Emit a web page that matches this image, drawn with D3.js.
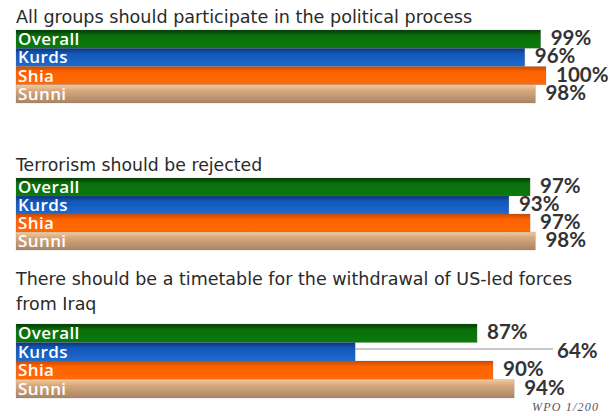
<!DOCTYPE html>
<html><head><meta charset="utf-8">
<script src="https://cdn.jsdelivr.net/npm/d3@7"></script>
<style>
html,body{margin:0;padding:0;background:#fff;}
svg{display:block;}
</style></head>
<body>
<svg id="c" width="610" height="416"></svg>
<script>
const groups = ["Overall", "Kurds", "Shia", "Sunni"];
const titles = [
  ["All groups should participate in the political process"],
  ["Terrorism should be rejected"],
  ["There should be a timetable for the withdrawal of US-led forces", "from Iraq"]
];
const participate = [99, 96, 100, 98];
const rejectTerror = [97, 93, 97, 98];
const timetable = [87, 64, 90, 94];
const source = "WPO 1/200";

const panelsData = [participate, rejectTerror, timetable];

const svg = d3.select("#c");

const colors = {
  Overall: ["#003a00", "#0b6f0b", "#0a7a0a"],
  Kurds:   ["#0a3577", "#1457b8", "#1d6ad0"],
  Shia:    ["#c84a00", "#ff6200", "#ff6a08"],
  Sunni:   ["#f2cba0", "#d9a97e", "#a88565"]
};
const defs = svg.append("defs");
groups.forEach(g => {
  const lg = defs.append("linearGradient").attr("id", "g-" + g)
    .attr("x1", 0).attr("y1", 0).attr("x2", 0).attr("y2", 1);
  lg.append("stop").attr("offset", "0%").attr("stop-color", colors[g][0]);
  lg.append("stop").attr("offset", "30%").attr("stop-color", colors[g][1]);
  lg.append("stop").attr("offset", "100%").attr("stop-color", colors[g][2]);
});

const x = d3.scaleLinear().domain([0, 100]).range([16, 546]);

const layout = [
  { titleY: [23], top: 30, bottom: 103, titleSize: 17.6 },
  { titleY: [171], top: 178, bottom: 250, titleSize: 17.3 },
  { titleY: [285, 310], top: 324, bottom: 398, titleSize: 17.5 }
];

panelsData.forEach((vals, pi) => {
  const L = layout[pi];
  const g = svg.append("g");
  titles[pi].forEach((t, i) => {
    g.append("text").attr("x", 16).attr("y", L.titleY[i])
      .attr("font-family", "DejaVu Sans").attr("font-size", L.titleSize)
      .attr("fill", "#2a2a2a").text(t);
  });
  const y = d3.scaleBand().domain(groups).range([L.top, L.bottom]).padding(0);
  const rows = groups.map((k, i) => ({ k, v: vals[i] }));

  g.selectAll("line.lead").data(rows.filter(d => d.v < 70)).join("line")
    .attr("x1", d => x(d.v)).attr("x2", x(100) + 7)
    .attr("y1", d => y(d.k) + y.bandwidth() * 0.35)
    .attr("y2", d => y(d.k) + y.bandwidth() * 0.35)
    .attr("stroke", "#c8c8c8").attr("stroke-width", 2);

  g.selectAll("rect.bar").data(rows).join("rect")
    .attr("x", x(0)).attr("y", d => y(d.k))
    .attr("width", d => x(d.v) - x(0)).attr("height", y.bandwidth())
    .attr("fill", d => `url(#g-${d.k})`)
    .attr("stroke", "rgba(120,120,120,0.35)").attr("stroke-width", 0.6);

  g.selectAll("text.cat").data(rows).join("text")
    .attr("x", x(0) + 2).attr("y", d => y(d.k) + y.bandwidth() / 2 + 6)
    .attr("font-family", "Open Sans").attr("font-weight", 600).attr("font-size", 17)
    .attr("letter-spacing", 0.4)
    .attr("fill", "#fff").text(d => d.k);

  g.selectAll("text.val").data(rows).join("text")
    .attr("x", d => d.v < 70 ? x(100) + 11 : x(d.v) + 10)
    .attr("y", d => y(d.k) + y.bandwidth() / 2 + 6)
    .attr("font-family", "Lato").attr("font-weight", 700).attr("font-size", 20.5)
    .attr("fill", "#333").text(d => d.v + "%");
});

svg.append("text").attr("x", 532).attr("y", 411)
  .attr("font-family", "Liberation Serif").attr("font-style", "italic").attr("font-size", 12)
  .attr("letter-spacing", 1.2)
  .attr("fill", "#555").text(source);
</script>
</body></html>
